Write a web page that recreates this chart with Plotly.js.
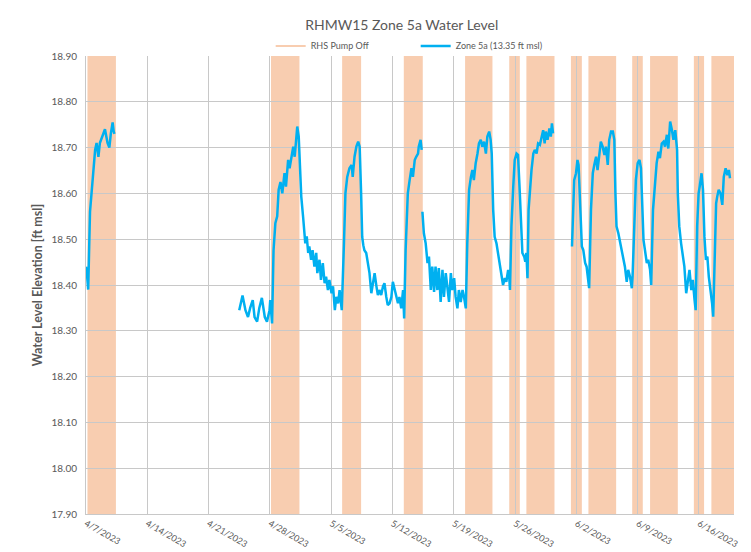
<!DOCTYPE html>
<html>
<head>
<meta charset="utf-8">
<script src="https://cdn.plot.ly/plotly-3.0.1.min.js"></script>
<style>
  html, body { margin: 0; padding: 0; background: #ffffff; }
  #chart { width: 751px; height: 552px; }
</style>
</head>
<body>
<div id="chart"></div>
<script>
// Zone 5a water level readings [time, elevation ft msl]; null marks a logger gap
const zone5aReadings = [
  ["2023-04-07 00:00", 18.44], ["2023-04-07 02:00", 18.43], ["2023-04-07 05:00", 18.40],
  ["2023-04-07 06:00", 18.39], ["2023-04-07 11:00", 18.56], ["2023-04-07 16:00", 18.615],
  ["2023-04-07 20:00", 18.66], ["2023-04-08 01:00", 18.695], ["2023-04-08 05:00", 18.71],
  ["2023-04-08 10:00", 18.68], ["2023-04-08 14:00", 18.71], ["2023-04-08 22:00", 18.73],
  ["2023-04-09 04:00", 18.74], ["2023-04-09 11:00", 18.71], ["2023-04-09 16:00", 18.70],
  ["2023-04-09 20:00", 18.73], ["2023-04-10 01:00", 18.755], ["2023-04-10 04:00", 18.735],
  ["2023-04-10 06:00", 18.73],
  ["2023-04-17 00:00", null],
  ["2023-04-24 12:00", 18.345], ["2023-04-24 21:00", 18.377], ["2023-04-25 05:00", 18.345],
  ["2023-04-25 12:00", 18.33], ["2023-04-25 18:00", 18.35], ["2023-04-26 01:00", 18.367],
  ["2023-04-26 06:00", 18.33], ["2023-04-26 13:00", 18.32], ["2023-04-26 19:00", 18.35],
  ["2023-04-27 02:00", 18.372], ["2023-04-27 10:00", 18.33], ["2023-04-27 16:00", 18.32],
  ["2023-04-27 23:00", 18.345], ["2023-04-28 01:00", 18.367], ["2023-04-28 06:00", 18.316],
  ["2023-04-28 10:00", 18.476], ["2023-04-28 15:00", 18.535], ["2023-04-28 20:00", 18.55],
  ["2023-04-29 00:00", 18.608], ["2023-04-29 05:00", 18.625], ["2023-04-29 10:00", 18.60],
  ["2023-04-29 16:00", 18.644], ["2023-04-29 20:00", 18.615], ["2023-04-30 02:00", 18.673],
  ["2023-04-30 06:00", 18.655], ["2023-04-30 11:00", 18.684], ["2023-04-30 16:00", 18.702],
  ["2023-04-30 20:00", 18.68], ["2023-05-01 00:00", 18.717], ["2023-05-01 03:00", 18.746],
  ["2023-05-01 07:00", 18.724], ["2023-05-01 10:00", 18.666], ["2023-05-01 14:00", 18.593],
  ["2023-05-01 19:00", 18.549], ["2023-05-01 23:00", 18.52], ["2023-05-02 01:00", 18.491],
  ["2023-05-02 05:00", 18.506], ["2023-05-02 09:00", 18.47], ["2023-05-02 12:00", 18.484],
  ["2023-05-02 17:00", 18.455], ["2023-05-02 21:00", 18.476], ["2023-05-03 02:00", 18.44],
  ["2023-05-03 07:00", 18.47], ["2023-05-03 10:00", 18.426], ["2023-05-03 16:00", 18.455],
  ["2023-05-03 20:00", 18.411], ["2023-05-04 01:00", 18.448], ["2023-05-04 06:00", 18.404],
  ["2023-05-04 10:00", 18.418], ["2023-05-04 15:00", 18.389], ["2023-05-04 19:00", 18.411],
  ["2023-05-05 01:00", 18.382], ["2023-05-05 05:00", 18.397], ["2023-05-05 10:00", 18.345],
  ["2023-05-05 14:00", 18.374], ["2023-05-05 19:00", 18.36], ["2023-05-05 23:00", 18.389],
  ["2023-05-06 05:00", 18.345], ["2023-05-06 11:00", 18.491], ["2023-05-06 15:00", 18.60],
  ["2023-05-06 20:00", 18.636], ["2023-05-07 02:00", 18.655], ["2023-05-07 08:00", 18.662],
  ["2023-05-07 11:00", 18.636], ["2023-05-07 16:00", 18.68], ["2023-05-07 21:00", 18.702],
  ["2023-05-08 02:00", 18.713], ["2023-05-08 06:00", 18.702], ["2023-05-08 10:00", 18.60],
  ["2023-05-08 13:00", 18.505], ["2023-05-08 16:00", 18.487], ["2023-05-08 19:00", 18.476],
  ["2023-05-09 00:00", 18.47], ["2023-05-09 05:00", 18.44], ["2023-05-09 09:00", 18.426],
  ["2023-05-09 14:00", 18.382], ["2023-05-09 18:00", 18.404], ["2023-05-09 23:00", 18.426],
  ["2023-05-10 04:00", 18.397], ["2023-05-10 08:00", 18.378], ["2023-05-10 12:00", 18.389],
  ["2023-05-10 17:00", 18.378], ["2023-05-10 22:00", 18.397], ["2023-05-11 02:00", 18.404],
  ["2023-05-11 07:00", 18.374], ["2023-05-11 11:00", 18.356], ["2023-05-11 16:00", 18.36],
  ["2023-05-11 21:00", 18.374], ["2023-05-12 01:00", 18.407], ["2023-05-12 06:00", 18.389],
  ["2023-05-12 10:00", 18.374], ["2023-05-12 15:00", 18.36], ["2023-05-12 19:00", 18.374],
  ["2023-05-13 00:00", 18.349], ["2023-05-13 05:00", 18.389], ["2023-05-13 08:00", 18.327],
  ["2023-05-13 12:00", 18.476], ["2023-05-13 15:00", 18.564], ["2023-05-13 18:00", 18.60],
  ["2023-05-13 23:00", 18.629], ["2023-05-14 04:00", 18.655], ["2023-05-14 08:00", 18.636],
  ["2023-05-14 13:00", 18.673], ["2023-05-14 17:00", 18.68], ["2023-05-14 22:00", 18.687],
  ["2023-05-15 00:00", 18.702], ["2023-05-15 05:00", 18.717], ["2023-05-15 08:00", 18.695],
  ["2023-05-15 09:00", null],
  ["2023-05-15 10:00", 18.56], ["2023-05-15 14:00", 18.513], ["2023-05-15 19:00", 18.491],
  ["2023-05-16 00:00", 18.448], ["2023-05-16 04:00", 18.462], ["2023-05-16 09:00", 18.389],
  ["2023-05-16 13:00", 18.44], ["2023-05-16 18:00", 18.385], ["2023-05-16 22:00", 18.44],
  ["2023-05-17 03:00", 18.389], ["2023-05-17 07:00", 18.437], ["2023-05-17 12:00", 18.363],
  ["2023-05-17 17:00", 18.433], ["2023-05-17 21:00", 18.374], ["2023-05-18 02:00", 18.426],
  ["2023-05-18 06:00", 18.397], ["2023-05-18 11:00", 18.363], ["2023-05-18 16:00", 18.426],
  ["2023-05-18 20:00", 18.389], ["2023-05-19 01:00", 18.415], ["2023-05-19 05:00", 18.374],
  ["2023-05-19 10:00", 18.349], ["2023-05-19 14:00", 18.389], ["2023-05-19 19:00", 18.363],
  ["2023-05-20 00:00", 18.389], ["2023-05-20 04:00", 18.374], ["2023-05-20 09:00", 18.349],
  ["2023-05-20 13:00", 18.491], ["2023-05-20 18:00", 18.608], ["2023-05-20 23:00", 18.636],
  ["2023-05-21 03:00", 18.651], ["2023-05-21 07:00", 18.629], ["2023-05-21 12:00", 18.666],
  ["2023-05-21 17:00", 18.687], ["2023-05-21 21:00", 18.709], ["2023-05-22 02:00", 18.717],
  ["2023-05-22 06:00", 18.702], ["2023-05-22 11:00", 18.713], ["2023-05-22 16:00", 18.687],
  ["2023-05-22 20:00", 18.724], ["2023-05-23 01:00", 18.735], ["2023-05-23 05:00", 18.717],
  ["2023-05-23 08:00", 18.687], ["2023-05-23 12:00", 18.564], ["2023-05-23 16:00", 18.505],
  ["2023-05-23 21:00", 18.491], ["2023-05-24 01:00", 18.47], ["2023-05-24 06:00", 18.448],
  ["2023-05-24 11:00", 18.426], ["2023-05-24 15:00", 18.40], ["2023-05-24 20:00", 18.415],
  ["2023-05-25 00:00", 18.407], ["2023-05-25 05:00", 18.433], ["2023-05-25 08:00", 18.418],
  ["2023-05-25 10:00", 18.389], ["2023-05-25 14:00", 18.528], ["2023-05-25 19:00", 18.615],
  ["2023-05-25 23:00", 18.673], ["2023-05-26 04:00", 18.687], ["2023-05-26 08:00", 18.684],
  ["2023-05-26 13:00", 18.60], ["2023-05-26 18:00", 18.513], ["2023-05-26 20:00", 18.47],
  ["2023-05-27 01:00", 18.462], ["2023-05-27 04:00", 18.451], ["2023-05-27 07:00", 18.47],
  ["2023-05-27 10:00", 18.415], ["2023-05-27 13:00", 18.564], ["2023-05-27 17:00", 18.622],
  ["2023-05-27 21:00", 18.651], ["2023-05-28 02:00", 18.687], ["2023-05-28 06:00", 18.695],
  ["2023-05-28 11:00", 18.687], ["2023-05-28 15:00", 18.709], ["2023-05-28 20:00", 18.706],
  ["2023-05-29 00:00", 18.724], ["2023-05-29 05:00", 18.738], ["2023-05-29 09:00", 18.709],
  ["2023-05-29 12:00", 18.735], ["2023-05-29 17:00", 18.717], ["2023-05-29 22:00", 18.742],
  ["2023-05-30 02:00", 18.724], ["2023-05-30 05:00", 18.753], ["2023-05-30 08:00", 18.731],
  ["2023-05-31 00:00", null],
  ["2023-06-01 12:00", 18.484], ["2023-06-01 15:00", 18.564], ["2023-06-01 18:00", 18.629],
  ["2023-06-01 23:00", 18.644], ["2023-06-02 03:00", 18.673], ["2023-06-02 06:00", 18.662],
  ["2023-06-02 10:00", 18.578], ["2023-06-02 12:00", 18.505], ["2023-06-02 15:00", 18.484],
  ["2023-06-02 19:00", 18.476], ["2023-06-03 00:00", 18.448], ["2023-06-03 04:00", 18.44],
  ["2023-06-03 08:00", 18.418], ["2023-06-03 11:00", 18.393], ["2023-06-03 16:00", 18.564],
  ["2023-06-03 21:00", 18.644], ["2023-06-04 01:00", 18.662], ["2023-06-04 06:00", 18.68],
  ["2023-06-04 10:00", 18.651], ["2023-06-04 15:00", 18.687], ["2023-06-04 19:00", 18.713],
  ["2023-06-05 00:00", 18.702], ["2023-06-05 05:00", 18.684], ["2023-06-05 09:00", 18.702],
  ["2023-06-05 14:00", 18.662], ["2023-06-05 18:00", 18.717], ["2023-06-05 23:00", 18.735],
  ["2023-06-06 04:00", 18.735], ["2023-06-06 08:00", 18.717], ["2023-06-06 11:00", 18.60],
  ["2023-06-06 14:00", 18.528], ["2023-06-06 19:00", 18.513], ["2023-06-07 00:00", 18.491],
  ["2023-06-07 04:00", 18.476], ["2023-06-07 09:00", 18.455], ["2023-06-07 13:00", 18.44],
  ["2023-06-07 18:00", 18.407], ["2023-06-07 22:00", 18.433], ["2023-06-08 03:00", 18.418],
  ["2023-06-08 08:00", 18.393], ["2023-06-08 10:00", 18.418], ["2023-06-08 15:00", 18.55],
  ["2023-06-08 19:00", 18.629], ["2023-06-09 00:00", 18.666], ["2023-06-09 05:00", 18.673],
  ["2023-06-09 09:00", 18.655], ["2023-06-09 12:00", 18.578], ["2023-06-09 16:00", 18.498],
  ["2023-06-09 20:00", 18.476], ["2023-06-10 01:00", 18.448], ["2023-06-10 05:00", 18.455],
  ["2023-06-10 10:00", 18.433], ["2023-06-10 13:00", 18.40], ["2023-06-10 18:00", 18.564],
  ["2023-06-11 00:00", 18.625], ["2023-06-11 04:00", 18.666], ["2023-06-11 09:00", 18.691],
  ["2023-06-11 13:00", 18.677], ["2023-06-11 18:00", 18.709], ["2023-06-11 23:00", 18.713],
  ["2023-06-12 03:00", 18.702], ["2023-06-12 08:00", 18.728], ["2023-06-12 12:00", 18.698],
  ["2023-06-12 17:00", 18.757], ["2023-06-12 22:00", 18.738], ["2023-06-13 02:00", 18.717],
  ["2023-06-13 07:00", 18.738], ["2023-06-13 12:00", 18.695], ["2023-06-13 14:00", 18.60],
  ["2023-06-13 18:00", 18.528], ["2023-06-13 23:00", 18.491], ["2023-06-14 04:00", 18.455],
  ["2023-06-14 08:00", 18.44], ["2023-06-14 13:00", 18.382], ["2023-06-14 18:00", 18.411],
  ["2023-06-14 22:00", 18.433], ["2023-06-15 03:00", 18.389], ["2023-06-15 07:00", 18.411],
  ["2023-06-15 12:00", 18.367], ["2023-06-15 15:00", 18.345], ["2023-06-15 19:00", 18.528],
  ["2023-06-15 23:00", 18.60], ["2023-06-16 02:00", 18.615], ["2023-06-16 07:00", 18.644],
  ["2023-06-16 11:00", 18.608], ["2023-06-16 15:00", 18.505], ["2023-06-16 19:00", 18.455],
  ["2023-06-16 23:00", 18.462], ["2023-06-17 03:00", 18.418], ["2023-06-17 08:00", 18.389],
  ["2023-06-17 12:00", 18.36], ["2023-06-17 15:00", 18.331], ["2023-06-17 19:00", 18.491],
  ["2023-06-17 23:00", 18.578], ["2023-06-18 02:00", 18.593], ["2023-06-18 06:00", 18.608],
  ["2023-06-18 11:00", 18.60], ["2023-06-18 16:00", 18.575], ["2023-06-18 20:00", 18.636],
  ["2023-06-19 01:00", 18.655], ["2023-06-19 06:00", 18.64], ["2023-06-19 10:00", 18.651],
  ["2023-06-19 13:00", 18.633]
];

// RHS pump-off periods
const pumpOffStart = [
  "2023-04-07 04:00", "2023-04-28 03:00", "2023-05-06 06:00", "2023-05-13 07:00",
  "2023-05-20 07:00", "2023-05-25 08:00", "2023-05-27 07:00", "2023-06-01 09:00",
  "2023-06-03 09:00", "2023-06-08 09:00", "2023-06-10 10:00", "2023-06-15 10:00",
  "2023-06-17 10:00"
];
const pumpOffEnd = [
  "2023-04-10 10:00", "2023-05-01 09:00", "2023-05-08 10:00", "2023-05-15 11:00",
  "2023-05-23 10:00", "2023-05-26 13:00", "2023-05-30 12:00", "2023-06-02 15:00",
  "2023-06-06 13:00", "2023-06-09 14:00", "2023-06-13 14:00", "2023-06-16 14:00",
  "2023-06-20 00:00"
];

const xRange = ["2023-04-07 00:00", "2023-06-20 00:00"];
const yRange = [17.9, 18.9];

const BLUE = "#00B0F0";
const PEACH = "#F8CDB0";
const TEXT = "#595959";
const GRID = "#C8C8C8";
const FONT = "Lato, 'Liberation Sans', sans-serif";

const pumpOffShapes = pumpOffStart.map((start, i) => ({
  type: "rect",
  xref: "x", yref: "y",
  x0: start, x1: pumpOffEnd[i],
  y0: yRange[0], y1: yRange[1],
  fillcolor: PEACH,
  line: { width: 0 },
  layer: "below"
}));

const traces = [
  {
    name: "RHS Pump Off",
    type: "scatter",
    mode: "lines",
    x: [null], y: [null],
    line: { color: PEACH, width: 2 },
    hoverinfo: "skip"
  },
  {
    name: "Zone 5a (13.35 ft msl)",
    type: "scatter",
    mode: "lines",
    x: zone5aReadings.map(r => r[0]),
    y: zone5aReadings.map(r => r[1]),
    connectgaps: false,
    line: { color: BLUE, width: 2.5 }
  }
];

const layout = {
  width: 751,
  height: 552,
  margin: { l: 86, r: 17, t: 56, b: 38 },
  paper_bgcolor: "#ffffff",
  plot_bgcolor: "#ffffff",
  font: { family: FONT, color: TEXT, size: 10 },
  title: {
    text: "RHMW15 Zone 5a Water Level",
    font: { family: FONT, size: 14, color: TEXT },
    x: 0.535, xanchor: "center",
    y: 0.955, yanchor: "middle"
  },
  showlegend: true,
  legend: {
    orientation: "h",
    x: 0.285, xanchor: "left",
    y: 1.022, yanchor: "middle",
    font: { family: FONT, size: 9, color: TEXT },
    entrywidth: 100, entrywidthmode: "pixels",
    bgcolor: "rgba(0,0,0,0)"
  },
  xaxis: {
    type: "date",
    range: xRange,
    tick0: xRange[0],
    dtick: 7 * 24 * 3600 * 1000,
    tickformat: "%-m/%-d/%Y",
    tickangle: 30,
    tickfont: { family: FONT, size: 9, color: TEXT },
    showgrid: true,
    gridcolor: GRID,
    gridwidth: 1,
    showline: true,
    linecolor: GRID,
    linewidth: 1,
    ticks: "",
    zeroline: false,
    automargin: false
  },
  yaxis: {
    range: yRange,
    dtick: 0.1,
    tick0: 17.9,
    tickformat: ".2f",
    tickfont: { family: FONT, size: 10, color: TEXT },
    ticklabelstandoff: 6,
    showgrid: true,
    gridcolor: GRID,
    gridwidth: 1,
    showline: true,
    linecolor: GRID,
    linewidth: 1,
    ticks: "",
    zeroline: false,
    automargin: false,
    title: {
      text: "<b>Water Level Elevation [ft msl]</b>",
      font: { family: FONT, size: 12.5, color: TEXT, weight: "bold" },
      standoff: 6
    }
  },
  shapes: pumpOffShapes
};

Plotly.newPlot("chart", traces, layout, { displayModeBar: false, staticPlot: true });
</script>
</body>
</html>
